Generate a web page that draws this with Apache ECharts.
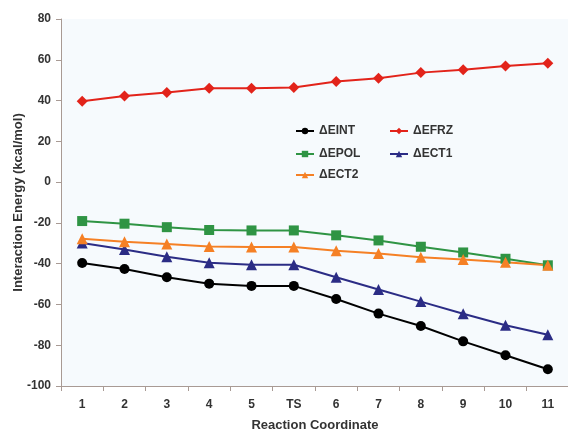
<!DOCTYPE html>
<html><head><meta charset="utf-8">
<script src="https://cdn.jsdelivr.net/npm/echarts@6/dist/echarts.min.js"></script>
<style>html,body{margin:0;padding:0;background:#fff}#c{width:568px;height:432px}</style>
</head><body><div id="c"></div>
<script>
var categories = ['1','2','3','4','5','TS','6','7','8','9','10','11'];
var dEINT = [-39.7,-42.6,-46.7,-49.8,-50.9,-50.9,-57.3,-64.5,-70.6,-78.1,-84.9,-91.8];
var dEFRZ = [39.7,42.2,44.0,46.0,46.0,46.4,49.4,50.9,53.7,55.1,56.9,58.3];
var dEPOL = [-19.1,-20.4,-22.1,-23.5,-23.7,-23.7,-26.1,-28.6,-31.7,-34.5,-37.6,-40.8];
var dECT1 = [-29.9,-33.0,-36.6,-39.6,-40.5,-40.5,-46.7,-52.7,-58.6,-64.6,-70.2,-74.9];
var dECT2 = [-27.8,-29.2,-30.3,-31.6,-31.8,-31.8,-33.7,-35.0,-36.8,-37.9,-39.3,-40.8];
var names = ['ΔEINT','ΔEFRZ','ΔEPOL','ΔECT1','ΔECT2'];

var chart = echarts.init(document.getElementById('c'));
var font = 'Liberation Sans, Arial, sans-serif';
function mk(name, data, color, symbol, size) {
  return {name: name, type: 'line', data: data, symbol: symbol, symbolSize: size,
    lineStyle: {color: color, width: 2}, itemStyle: {color: color}, animation: false};
}
function lg(name, left, top) {
  return {data: [name], left: left, top: top, itemWidth: 18, itemHeight: 8,
    textStyle: {fontFamily: font, fontWeight: 'bold', fontSize: 12, color: '#333'},
    padding: 0, itemGap: 2};
}
chart.setOption({
  backgroundColor: '#fff',
  grid: {left: 61, top: 19, width: 508, height: 367, show: true, backgroundColor: '#f6fafd', borderWidth: 0,
    containLabel: false, outerBoundsMode: 'none'},
  legend: [lg(names[0], 295, 125), lg(names[1], 389, 125), lg(names[2], 295, 148), lg(names[3], 389, 148), lg(names[4], 295, 169)],
  xAxis: {type: 'category', data: categories, boundaryGap: true,
    name: 'Reaction Coordinate', nameLocation: 'middle', nameGap: 33, nameMoveOverlap: false,
    nameTextStyle: {fontFamily: font, fontWeight: 'bold', fontSize: 13, color: '#333'},
    axisLine: {onZero: false, lineStyle: {color: '#a89a94'}},
    axisTick: {show: true, alignWithLabel: false, length: 5, lineStyle: {color: '#a89a94'}},
    axisLabel: {fontFamily: font, fontWeight: 'bold', fontSize: 12, color: '#333', margin: 13},
    splitLine: {show: false}},
  yAxis: {type: 'value', min: -100, max: 80, interval: 20,
    name: 'Interaction Energy (kcal/mol)', nameLocation: 'middle', nameGap: 36, nameMoveOverlap: false,
    nameTextStyle: {fontFamily: font, fontWeight: 'bold', fontSize: 13, color: '#333'},
    axisLine: {show: true, lineStyle: {color: '#a89a94'}},
    axisTick: {show: true, length: 5, lineStyle: {color: '#a89a94'}},
    axisLabel: {fontFamily: font, fontWeight: 'bold', fontSize: 12, color: '#333', margin: 10},
    splitLine: {show: false}},
  series: [
    mk(names[0], dEINT, '#000000', 'circle', 10),
    mk(names[1], dEFRZ, '#e2231a', 'diamond', 11),
    mk(names[2], dEPOL, '#2f9444', 'rect', 10),
    mk(names[3], dECT1, '#2b2c85', 'triangle', 11),
    mk(names[4], dECT2, '#f58025', 'triangle', 11)
  ]
});
</script></body></html>
